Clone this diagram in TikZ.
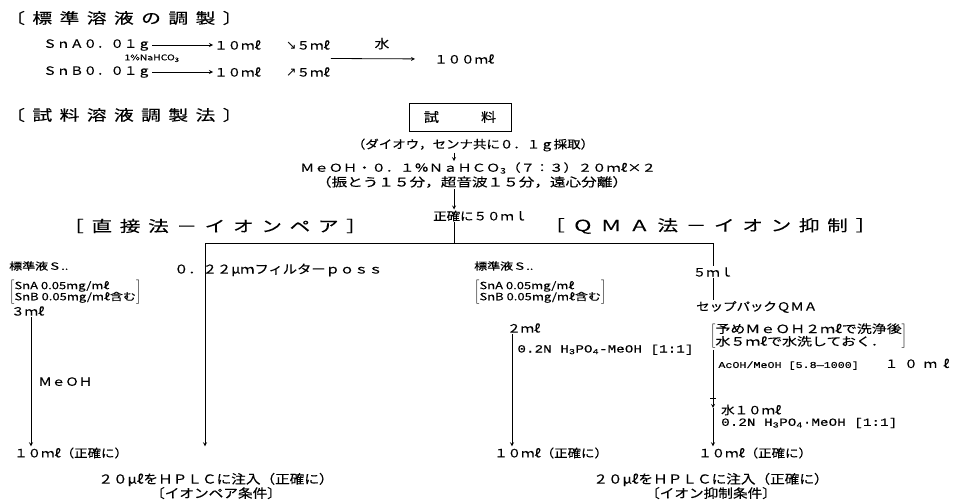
\documentclass[tikz,border=0pt]{standalone}
\usepackage{fontspec}
\setmainfont{Noto Sans CJK JP}
\newfontfamily\jpfont{Noto Sans CJK JP}[FakeStretch=1.17,FakeBold=0.3]
\newfontfamily\hdfont{Noto Sans CJK JP}[FakeStretch=1.35,LetterSpace=50,FakeBold=0.3]
\newfontfamily\nfont{Noto Sans CJK JP}[FakeStretch=1.3,FakeBold=0.3]
\newfontfamily\twfont{Liberation Mono}[FakeStretch=1.3,FakeBold=0.3]
\newfontfamily\symfont{DejaVu Sans}
\renewcommand{\arraystretch}{0.85}
\usetikzlibrary{arrows, positioning, calc}

\begin{document}
\begin{tikzpicture}[x=1pt, y=-1pt,
    every node/.style={inner sep=1pt, font=\jpfont\fontsize{11.5}{12}\selectfont},
    heading/.style={anchor=west, font=\hdfont\fontsize{15.3}{15}\selectfont},
    big/.style={font=\jpfont\fontsize{12.5}{12}\selectfont},
    wide/.style={font=\nfont\fontsize{12}{12}\selectfont},
    txt/.style={anchor=west},
    small/.style={font=\nfont\fontsize{10}{10.5}\selectfont},
    note/.style={font=\nfont\fontsize{11.5}{11.5}\selectfont},
    mono/.style={font=\twfont\fontsize{11}{11}\selectfont},
    monosm/.style={font=\twfont\fontsize{9}{9}\selectfont},
    sample/.style={draw, line width=0.8pt, minimum width=102pt, minimum height=28pt},
    arrow/.style={->, >=stealth, line width=0.8pt},
    line/.style={line width=0.8pt}
]
\useasboundingbox (0,0) rectangle (963,500);

\node[heading, font=\hdfont\fontsize{14.7}{14}\selectfont] (hdstd) at (4,18) {〔標準溶液の調製〕};
\node[txt] (snA) at (42,45) {ＳｎＡ０．０１ｇ};
\node[txt] (snB) at (42,72) {ＳｎＢ０．０１ｇ};
\node[txt] (tenA) at (213,45) {１０ｍℓ};
\node[txt] (tenB) at (213,72) {１０ｍℓ};
\node[txt] (fiveA) at (285,45) {{\symfont\fontsize{12.5}{10}\selectfont ↘}５ｍℓ};
\node[txt] (fiveB) at (285,72) {{\symfont\fontsize{12.5}{10}\selectfont ↗}５ｍℓ};
\node[txt] (hund) at (433,59) {１００ｍℓ};
\draw[arrow] (snA) -- node[pos=0, below=8pt, font=\nfont\fontsize{8}{8}\selectfont] {1\%NaHCO\textsubscript{3}} (tenA);
\draw[arrow] (snB) -- (tenB);
\draw[arrow, shorten >=18pt] ($(fiveA.east)!.5!(fiveB.east)$) -- node[above=8pt, big] {水} (hund.west);

\node[heading, font=\hdfont\fontsize{14.7}{14}\selectfont] (hdsmp) at (4,115) {〔試料溶液調製法〕};
\node[sample, font=\jpfont\fontsize{13}{13}\selectfont] (smp) at (460,117) {試\hspace{42pt}料};
\node (ext) at (473,145) {（ダイオウ，センナ共に０．１ｇ採取）};
\node[font=\nfont\fontsize{11}{12}\selectfont] (meoh) at (478,168) {ＭｅＯＨ・０．１％ＮａＨＣＯ\textsubscript{3}（７：３）２０ｍℓ×２};
\node[wide] (cond) at (472,182) {（振とう１５分，超音波１５分，遠心分離）};
\node[txt] (fifty) at (432,216) {正確に５０ｍｌ};
\coordinate (axis) at (454,0);
\coordinate (spl) at (454,243);
\coordinate (splL) at (205,243);
\coordinate (splR) at (713,243);
\draw[arrow] (ext.south -| axis) -- (meoh.north -| axis);
\draw[arrow] (cond.south -| axis) -- (fifty.north -| axis);
\draw[line] (fifty.south -| axis) -- (spl);
\draw[line] (splL) -- (splR);

\node[heading] (hddir) at (62,226) {［直接法－イオンペア］};
\node[heading] (hdqma) at (543,226) {［ＱＭＡ法－イオン抑制］};

\node[txt, small] (stdL) at (8,266) {標準液Ｓ..};
\node[txt, small] (cmpL) at (8,292) {$\left[\begin{tabular}{@{}l@{}}SnA 0.05mg/mℓ\\SnB 0.05mg/mℓ含む\end{tabular}\right]$};
\node[txt] (threeL) at (10,311) {３ｍℓ};
\node[txt] (tenL) at (13,453) {１０ｍℓ（正確に）};
\coordinate (colL) at (31,0);
\draw[arrow] (threeL.south -| colL) -- node[right=6pt] {ＭｅＯＨ} (tenL.north -| colL);
\node[txt, font=\jpfont\fontsize{12.2}{12}\selectfont] (filt) at (173,270) {０．２２μｍフィルターｐｏｓｓ};
\draw[arrow] (splL) -- (splL |- tenL.north);
\node[align=center, big] (hplcL) at (216,486) {２０μℓをＨＰＬＣに注入（正確に）\\〔イオンペア条件〕};

\node[txt, small] (stdM) at (473,266) {標準液Ｓ..};
\node[txt, small] (cmpM) at (473,292) {$\left[\begin{tabular}{@{}l@{}}SnA 0.05mg/mℓ\\SnB 0.05mg/mℓ含む\end{tabular}\right]$};
\node[txt] (twoM) at (506,328) {２ｍℓ};
\node[txt] (tenM) at (493,453) {１０ｍℓ（正確に）};
\coordinate (colM) at (512,0);
\draw[arrow] (twoM.south -| colM) -- node[pos=.14, right=4pt, mono] {0.2N H\textsubscript{3}PO\textsubscript{4}-MeOH [1:1]} (tenM.north -| colM);

\node (fiveR) at (713,272) {５ｍｌ};
\node[txt] (qma) at (695,307) {セップパックＱＭＡ};
\node[txt, note] (pre) at (709,336) {$\left[\begin{tabular}{@{}l@{}}予めＭｅＯＨ２ｍℓで洗浄後\\水５ｍℓで水洗しておく．\end{tabular}\right]$};
\coordinate (colR) at (713,0);
\coordinate (tick) at (713,398);
\coordinate (wat) at (713,408);
\draw[line] (splR) -- (fiveR.north -| colR);
\draw[line] (fiveR.south -| colR) -- (qma.north -| colR);
\draw[line] (pre.south -| colR) -- node[pos=.3, right=4pt, monosm] {AcOH/MeOH [5.8—1000]\hspace{26pt}{\jpfont\fontsize{11.5}{12}\selectfont １\hspace{6pt}０\hspace{6pt}ｍ\hspace{6pt}ℓ}} (tick);
\draw[line] ([xshift=-3pt]tick) -- ([xshift=3pt]tick);
\draw[arrow] (tick) -- (wat);
\node[txt] (water) at (720,410) {水１０ｍℓ};
\node[txt, mono] (acid) at (720,423) {0.2N H\textsubscript{3}PO\textsubscript{4}·MeOH [1:1]};
\node[txt] (tenR) at (697,453) {１０ｍℓ（正確に）};
\draw[arrow] (wat) -- (tenR.north -| colR);
\node[align=center, big] (hplcR) at (711,486) {２０μℓをＨＰＬＣに注入（正確に）\\〔イオン抑制条件〕};

\end{tikzpicture}
\end{document}
